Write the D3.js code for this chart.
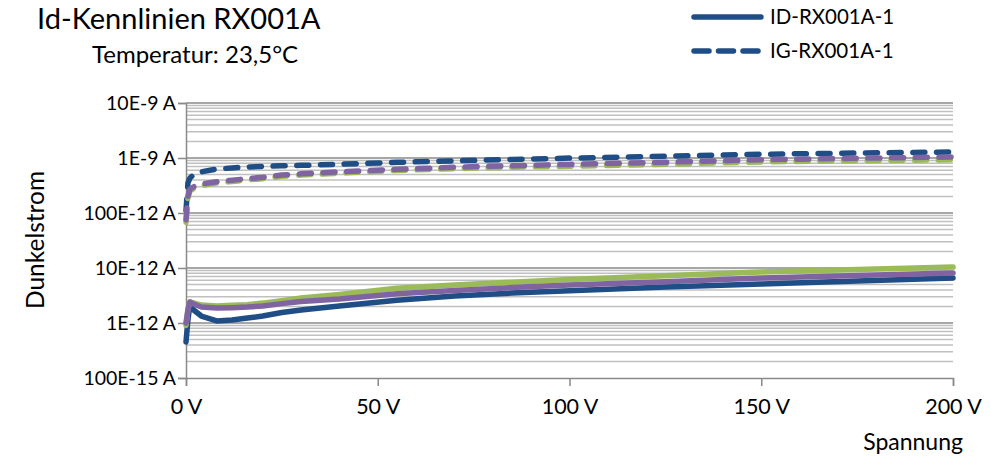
<!DOCTYPE html>
<html><head><meta charset="utf-8">
<script src="https://cdn.jsdelivr.net/npm/d3@7"></script>
<style>
html,body{margin:0;padding:0;background:#fff;}
svg{display:block;font-family:Lato, "Open Sans", sans-serif;}
</style></head>
<body>
<svg id="chart" width="991" height="458"></svg>
<script>
// Voltage samples (V)
const voltages = [0, 0.5, 1, 2, 4, 8, 12, 16, 20, 25, 30, 40, 55, 70, 85, 100, 125, 150, 175, 200];
// Dark currents in pA
const idBlue   = [0.45, 1.13, 2.12, 1.72, 1.34, 1.09, 1.13, 1.23, 1.34, 1.55, 1.72, 2.04, 2.6, 3.1, 3.5, 3.85, 4.5, 5.12, 5.8, 6.58];
const idPurple = [1.0, 1.72, 2.41, 2.21, 1.95, 1.87, 1.9, 1.95, 2.04, 2.25, 2.45, 2.73, 3.4, 3.9, 4.4, 4.9, 5.6, 6.58, 7.3, 8.11];
const idGreen  = [0.9, 1.8, 2.41, 2.31, 2.12, 2.04, 2.1, 2.15, 2.3, 2.55, 2.85, 3.3, 4.3, 4.9, 5.5, 6.2, 7.2, 8.46, 9.4, 10.4];
const igBlue   = [110, 350, 430, 500, 560, 630, 660, 685, 705, 720, 735, 770, 834, 890, 940, 995, 1080, 1170, 1230, 1285];
const igPurple = [75, 200, 270, 300, 335, 370, 395, 420, 445, 490, 515, 560, 622, 680, 725, 765, 840, 930, 990, 1043];
const igGreen  = [68, 185, 250, 280, 315, 350, 375, 400, 420, 465, 490, 530, 595, 640, 680, 705, 770, 850, 890, 930];

const xTicks = [0, 50, 100, 150, 200];
const xTickLabels = ["0 V", "50 V", "100 V", "150 V", "200 V"];
const yTicks = [0.1, 1, 10, 100, 1000, 10000];
const yTickLabels = ["100E-15 A", "1E-12 A", "10E-12 A", "100E-12 A", "1E-9 A", "10E-9 A"];
const legendNames = ["ID-RX001A-1", "IG-RX001A-1"];

const colors = {blue: "#1F4E86", purple: "#8064A2", green: "#9BBB59"};

const series = [
  {vals: idBlue, color: colors.blue, dashed: false},
  {vals: igBlue, color: colors.blue, dashed: true},
  {vals: idGreen, color: colors.green, dashed: false},
  {vals: igGreen, color: colors.green, dashed: true},
  {vals: idPurple, color: colors.purple, dashed: false},
  {vals: igPurple, color: colors.purple, dashed: true}
];

const svg = d3.select("#chart");
const L = 186, R = 953, T = 103, B = 378;
const x = d3.scaleLinear().domain([0, 200]).range([L, R]);
const y = d3.scaleLog().domain([0.1, 10000]).range([B, T]);

// minor gridlines
const minor = [];
for (let e = -1; e < 4; e++) for (let k = 2; k <= 9; k++) minor.push(k * Math.pow(10, e));
svg.append("g").selectAll("line").data(minor).join("line")
  .attr("x1", L).attr("x2", R).attr("y1", d => y(d)).attr("y2", d => y(d))
  .attr("stroke", "#C0C0C0").attr("stroke-width", 1.5);
// major gridlines
svg.append("g").selectAll("line").data(yTicks.slice(1)).join("line")
  .attr("x1", L).attr("x2", R).attr("y1", d => y(d)).attr("y2", d => y(d))
  .attr("stroke", "#8A8A8A").attr("stroke-width", 1.5);

// axes
const yAxis = d3.axisLeft(y).tickValues(yTicks).tickFormat((d, i) => yTickLabels[i]).tickSize(8).tickPadding(2);
const gy = svg.append("g").attr("transform", `translate(${L},0)`).call(yAxis);
const xAxis = d3.axisBottom(x).tickValues(xTicks).tickFormat((d, i) => xTickLabels[i]).tickSize(8).tickPadding(13);
const gx = svg.append("g").attr("transform", `translate(0,${B})`).call(xAxis);
[gy, gx].forEach(g => {
  g.select(".domain").attr("stroke", "#8A8A8A").attr("stroke-width", 1.5);
  g.selectAll(".tick line").attr("stroke", "#8A8A8A").attr("stroke-width", 1.5);
  g.selectAll("text").attr("fill", "#000").style("font-family", "Lato, sans-serif");
});
gy.selectAll("text").style("font-size", "19.5px");
gx.selectAll("text").style("font-size", "21.5px");

// series
const line = d3.line().x((d, i) => x(voltages[i])).y(d => y(d));
series.forEach(s => {
  svg.append("path").datum(s.vals)
    .attr("d", line)
    .attr("fill", "none")
    .attr("stroke", s.color)
    .attr("stroke-width", 5.5)
    .attr("stroke-linecap", "round")
    .attr("stroke-linejoin", "round")
    .attr("stroke-dasharray", s.dashed ? "12 11.7" : null);
});

// titles
svg.append("text").attr("x", 37).attr("y", 29).text("Id-Kennlinien RX001A")
  .style("font-size", "29px").attr("fill", "#000");
svg.append("text").attr("x", 92).attr("y", 63).text("Temperatur: 23,5°C")
  .style("font-size", "24px").attr("fill", "#000");
svg.append("text").attr("transform", "translate(44,240) rotate(-90)").attr("text-anchor", "middle")
  .text("Dunkelstrom").style("font-size", "24.5px").attr("fill", "#000");
svg.append("text").attr("x", 963).attr("y", 450).attr("text-anchor", "end")
  .text("Spannung").style("font-size", "23px").attr("fill", "#000");

// legend
const lg = svg.append("g");
legendNames.forEach((name, i) => {
  const ly = 17 + i * 34;
  lg.append("line").attr("x1", 694).attr("x2", 761).attr("y1", ly).attr("y2", ly)
    .attr("stroke", colors.blue).attr("stroke-width", 5.5).attr("stroke-linecap", "round")
    .attr("stroke-dasharray", i === 1 ? "15 9.5" : null);
  lg.append("text").attr("x", 770).attr("y", ly + 7).text(name)
    .style("font-size", "20.5px").attr("fill", "#000");
});
</script>
</body></html>
